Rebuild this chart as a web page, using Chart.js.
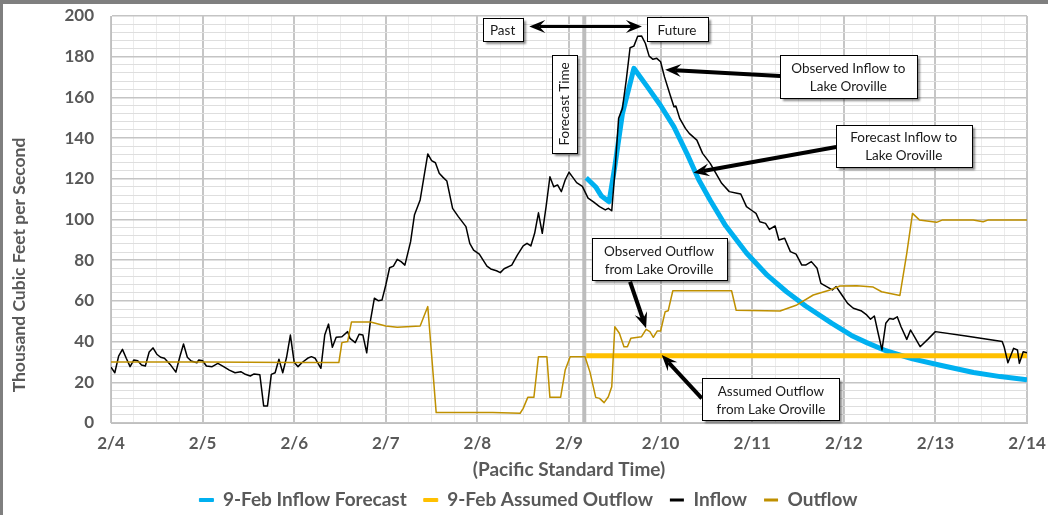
<!DOCTYPE html>
<html><head><meta charset="utf-8">
<script src="https://cdn.jsdelivr.net/npm/chart.js@4/dist/chart.umd.min.js"></script>
<style>html,body{margin:0;padding:0;background:#fff;}canvas{display:block;}</style>
</head><body>
<canvas id="c" width="1048" height="515"></canvas>
<script>
// ---- data (hours after 2/4 00:00 PST) ----
const dayLabels = ['2/4','2/5','2/6','2/7','2/8','2/9','2/10','2/11','2/12','2/13','2/14'];
const seriesNames = ['9-Feb Inflow Forecast','9-Feb Assumed Outflow','Inflow','Outflow'];

const inflowHours = [0,1,2,3,4,5,6,7,8,9,10,11,12,13,14,15.5,17,18,19,20,21,22.5,23,24,25,26.5,28,29.5,31,32.5,34,35,36.5,37.5,39,40,41,42,43,44,45,46,47,48,49,50,51.5,52.5,53.5,55,56,57,58,59,60.5,62,62.6,64,65,66,67,68,69,70,71,72,73,74,75,76,77,78.5,79.5,81,82,83,84,85,86,87,88,89.5,91,93,94,95,96.5,98.5,99.5,101,102,103,105,106.5,108,109,110,111,112,113,114,115,116,117,118,119,120,121,122,123.5,125,126.5,128,129.5,130.3,131.2,132,133,134,135,136,137,138,139,140,141,142,143,144,145,146.5,147.5,148,149,150.5,151.5,153.5,155,157,158.5,160,162,164,165,166.5,168,169,170,171.5,172.5,174,175,176.5,178,179.5,181,182,183.5,185,186,187.5,189,190,191.5,193,194.5,196.5,198,199,200,201,202,203,204,205,206,207,208.5,209.5,210.5,212,214,216,224,233.5,234,235,236.5,237.5,238,239,240];
const inflowValues = [27.4,24.7,32.9,36.2,31.8,27.7,31,30.6,28.5,28,34.9,36.9,33.8,32.3,31.8,28.8,25,32.3,38.8,32.3,30.5,29.6,31,30.6,28,27.7,29.3,27.7,26,24.7,25.2,24.1,23.1,24.1,23.7,8.4,8.4,23.9,24.7,31.3,24.7,32.3,43.2,29.8,27.7,29.6,31.8,32.6,31.8,26.9,43.2,48.6,37.2,42.1,42.4,44.9,41.6,39.5,43.6,43.2,34.5,50.6,61.3,60.1,60.4,67.8,76.3,77.1,80.4,79.3,77.6,89.1,102.2,109.6,121,132.2,128.9,127.9,122.7,120.7,118.9,105.5,101.4,96.5,88.3,85,83,77.1,75.7,74.8,73.9,75.8,77.6,82.6,87,88.3,87,93.2,103.3,93.2,106.3,121,116.1,117,113.7,119.4,123.2,120.7,118.1,116.3,110.5,108.5,106.3,104.7,105.5,104.3,122.7,149.7,154.6,168.5,184.4,185.2,190.1,190.2,186.6,180.3,178.7,179.2,177.5,170.2,161.2,155.4,155.8,149.7,144.8,142.3,139,132.5,127.6,122.7,117.8,113.7,112.9,112.5,106.3,104.3,103,98.9,98.1,95.1,96.8,89.9,90.8,84.2,83,77.6,77.6,79.3,76,68.6,67,65.4,67,62.9,58.8,56.4,55.2,53.1,51,52.6,44.1,35.9,49,51.4,51,52.2,47.3,41.1,45.7,42.4,37.5,41.1,44.9,42.8,40,37.5,29.6,36.7,35.9,29.3,35,34.5];

const outflowHours = [0,24,48,59.7,60.5,62,63,68,72,75,81,83,85.2,100,107.2,108,109.2,110.8,112,114.2,115,117.8,119,120.3,124.2,125.5,127,128,129.2,130.3,131.2,132,133.2,134.4,135.3,136.2,139,140.2,141.2,142.1,143.1,144,145.2,146,147.2,162.6,163.8,175.3,179.7,184,188.4,191,195.4,199.7,201.9,206.7,208.5,210,211.8,216.3,217.9,225.9,228.5,229.9,240];
const outflowValues = [30,30,29.7,29.7,39.5,40,49.6,49.6,47.7,47,47.7,57.2,5.1,5.1,4.8,7.2,12.6,12.6,32.6,32.6,12.6,12.6,26,32.6,32.6,25,12.6,12.1,10,12.9,17.8,47.3,44.1,37.5,37.5,41.6,42.4,46,44.9,42.1,45.2,45.2,54.7,55.2,65,65,55.4,55,58,62.9,65.4,67.3,67.5,66.8,64.5,62.7,83.4,103,99.8,98.6,99.8,99.8,98.9,99.8,99.8];

const forecastHours = [124.5,127,128.5,130.5,132,134,137,140.5,144,147.5,151,154,157,161,166.5,172,177,182,189,194,198,203,210,217,226,233,240];
const forecastValues = [120.5,116,111.5,108.7,126,152,174.3,165.3,156,145.5,132,119.5,109.5,97,83.5,72.5,64.5,57.5,48.8,43,39.5,35.5,31.5,28.5,24.8,22.8,21.2];

const assumedHours = [124.5,240];
const assumedValues = [33,33];

const forecastTimeHour = 124;

// ---- annotations (anchored in data units) ----
const noteBoxes = [
  {lines:['Past'], h:102.6, v:193.3, w:40, ht:23},
  {lines:['Future'], h:148.3, v:193.5, w:61, ht:24},
  {lines:['Forecast Time'], h:118.7, v:156.8, w:25, ht:98, vertical:true},
  {lines:['Observed Inflow to','Lake Oroville'], h:193.2, v:170.2, w:137, ht:43},
  {lines:['Forecast Inflow to','Lake Oroville'], h:207.7, v:136.2, w:136, ht:42},
  {lines:['Observed Outflow','from Lake Oroville'], h:143.6, v:80.5, w:135, ht:42},
  {lines:['Assumed Outflow','from Lake Oroville'], h:172.9, v:11.7, w:137, ht:42}
];
const noteArrows = [
  {h1:109.6, v1:194.9, h2:139.1, v2:194.9, lw:3, both:true},
  {h1:175.3, v1:170.5, h2:145.2, v2:173.6, lw:4},
  {h1:190.0, v1:135.6, h2:152.6, v2:123.0, lw:4},
  {h1:136.0, v1:69.4, h2:140.2, v2:46.5, lw:4},
  {h1:154.8, v1:12.1, h2:144.3, v2:33.4, lw:4}
];

const pts = (hs, vs) => hs.map((h, i) => ({x: h, y: vs[i]}));
const GREY = '#595959';
const tickFont = {family: 'Lato', size: 17, weight: 'bold'};

const framePlugin = {
  id: 'frame',
  beforeDatasetsDraw(chart) {
    const {ctx, chartArea: a, scales: {x}} = chart;
    const px = x.getPixelForValue(forecastTimeHour);
    ctx.save();
    ctx.strokeStyle = '#bdbdbd';
    ctx.lineWidth = 4;
    ctx.beginPath(); ctx.moveTo(px, a.top); ctx.lineTo(px, a.bottom); ctx.stroke();
    ctx.restore();
  },
  afterLayout(chart) {
    const lg = chart.legend;
    if (lg) { lg.top += 4.5; lg.bottom += 4.5; lg.left += 15; lg.right += 15; }
  },
  afterDatasetsDraw(chart) {
    const {ctx, scales: {x, y}} = chart;
    ctx.save();
    noteArrows.forEach(a => {
      const x1 = x.getPixelForValue(a.h1), y1 = y.getPixelForValue(a.v1);
      const x2 = x.getPixelForValue(a.h2), y2 = y.getPixelForValue(a.v2);
      drawArrow(ctx, x1, y1, x2, y2, a.lw, a.both);
    });
    noteBoxes.forEach(b => {
      const cx = x.getPixelForValue(b.h), cy = y.getPixelForValue(b.v);
      const l = Math.round(cx - b.w / 2) + 0.5, t = Math.round(cy - b.ht / 2) + 0.5;
      ctx.save();
      ctx.shadowColor = 'rgba(0,0,0,0.45)';
      ctx.shadowOffsetX = 2; ctx.shadowOffsetY = 2; ctx.shadowBlur = 2;
      ctx.fillStyle = '#ffffff';
      ctx.fillRect(l, t, b.w, b.ht);
      ctx.restore();
      ctx.strokeStyle = '#000'; ctx.lineWidth = 1;
      ctx.strokeRect(l, t, b.w, b.ht);
      ctx.fillStyle = '#1a1a1a';
      ctx.font = '13.5px Lato';
      ctx.textAlign = 'center'; ctx.textBaseline = 'middle';
      if (b.vertical) {
        ctx.save(); ctx.translate(cx, cy); ctx.rotate(-Math.PI / 2);
        ctx.fillText(b.lines[0], 0, 1); ctx.restore();
      } else {
        const lh = 18, n = b.lines.length;
        b.lines.forEach((s, i) => ctx.fillText(s, cx, cy + (i - (n - 1) / 2) * lh + 1));
      }
    });
    ctx.restore();
  },
  afterDraw(chart) {
    const {ctx} = chart;
    ctx.save();
    ctx.translate(19, 265); ctx.rotate(-Math.PI / 2);
    ctx.font = 'bold 17.5px Lato'; ctx.fillStyle = GREY;
    ctx.textAlign = 'center'; ctx.textBaseline = 'middle';
    ctx.fillText('Thousand Cubic Feet per Second', 0, 0);
    ctx.restore();
    ctx.save();
    ctx.fillStyle = '#7f7f7f';
    ctx.fillRect(0, 0, chart.width, 4);
    ctx.fillRect(0, 0, 3, chart.height);
    ctx.restore();
  }
};

function drawArrow(ctx, x1, y1, x2, y2, lw, both) {
  const ang = Math.atan2(y2 - y1, x2 - x1), c = Math.cos(ang), s = Math.sin(ang);
  const L = 16, W = 6.5, N = 0.62;
  ctx.strokeStyle = '#000'; ctx.fillStyle = '#000'; ctx.lineWidth = lw;
  ctx.beginPath();
  ctx.moveTo(both ? x1 + c * L * N : x1, both ? y1 + s * L * N : y1);
  ctx.lineTo(x2 - c * L * N, y2 - s * L * N);
  ctx.stroke();
  const head = (hx, hy, cc, ss) => {
    ctx.beginPath();
    ctx.moveTo(hx, hy);
    ctx.lineTo(hx - L * cc + W * ss, hy - L * ss - W * cc);
    ctx.lineTo(hx - N * L * cc, hy - N * L * ss);
    ctx.lineTo(hx - L * cc - W * ss, hy - L * ss + W * cc);
    ctx.closePath(); ctx.fill();
  };
  head(x2, y2, c, s);
  if (both) head(x1, y1, -c, -s);
}

const lineDs = (label, data, color, width, order) => ({
  label, data, borderColor: color, backgroundColor: color, borderWidth: width,
  pointRadius: 0, pointHoverRadius: 0, tension: 0, order,
  borderJoinStyle: 'round', borderCapStyle: 'butt', fill: false
});

new Chart(document.getElementById('c'), {
  type: 'line',
  data: {
    datasets: [
      lineDs(seriesNames[0], pts(forecastHours, forecastValues), '#00b0f0', 5, 3),
      lineDs(seriesNames[1], pts(assumedHours, assumedValues), '#ffc000', 5, 2),
      lineDs(seriesNames[2], pts(inflowHours, inflowValues), '#000000', 1.5, 1),
      lineDs(seriesNames[3], pts(outflowHours, outflowValues), '#bf9000', 1.5, 0)
    ]
  },
  plugins: [framePlugin],
  options: {
    responsive: false, animation: false, devicePixelRatio: 1,
    events: [],
    layout: {padding: {left: 0, top: 16, right: 21, bottom: 0}},
    plugins: {
      tooltip: {enabled: false},
      legend: {
        position: 'bottom',
        labels: {
          font: {family: 'Lato', size: 19, weight: 'bold'}, color: GREY,
          boxWidth: 14, boxHeight: 3, padding: 17,
          sort: (a, b) => a.datasetIndex - b.datasetIndex,
          generateLabels(chart) {
            return chart.data.datasets.map((ds, i) => ({
              text: ds.label, fillStyle: ds.borderColor, strokeStyle: ds.borderColor,
              lineWidth: ds.borderWidth > 3 ? 1 : 0, hidden: false, datasetIndex: i, fontColor: GREY
            }));
          }
        }
      }
    },
    scales: {
      x: {
        type: 'linear', min: 0, max: 240,
        afterFit(scale) {
          const lg = scale.chart.legend;
          scale.height = 515 - 423 - ((lg && lg.height) || 46);
          scale.paddingLeft = 0; scale.paddingRight = 0;
          scale.paddingTop = 0; scale.paddingBottom = 0;
        },
        ticks: {
          stepSize: 6, autoSkip: false, maxRotation: 0, minRotation: 0, padding: 10,
          font: tickFont, color: GREY,
          callback: v => (v % 24 === 0 ? dayLabels[v / 24] : '')
        },
        grid: {
          drawTicks: false,
          color: c => (c.tick && c.tick.value % 24 === 0 ? '#c6c6c6' : '#ececec'),
          lineWidth: c => (c.tick && c.tick.value % 24 === 0 ? 2 : 1)
        },
        border: {display: true, color: '#bfbfbf', width: 1},
        title: {
          display: true, text: '(Pacific Standard Time)', color: GREY,
          font: {family: 'Lato', size: 19, weight: 'bold'}, padding: {top: 0, bottom: -12.5}
        }
      },
      y: {
        type: 'linear', min: 0, max: 200,
        afterFit(scale) {
          scale.width = 111;
          scale.paddingLeft = 0; scale.paddingRight = 0;
          scale.paddingTop = 0; scale.paddingBottom = 0;
        },
        ticks: {
          stepSize: 4, autoSkip: false, padding: 17,
          font: tickFont, color: GREY,
          callback: v => (v % 20 === 0 ? String(v) : '')
        },
        grid: {
          drawTicks: false,
          color: c => (c.tick && c.tick.value % 20 === 0 ? '#c4c4c4' : '#dedede'),
          lineWidth: c => (c.tick && c.tick.value % 20 === 0 ? 1.5 : 1)
        },
        border: {display: true, color: '#bfbfbf', width: 1}
      }
    }
  }
});
</script>
</body></html>
